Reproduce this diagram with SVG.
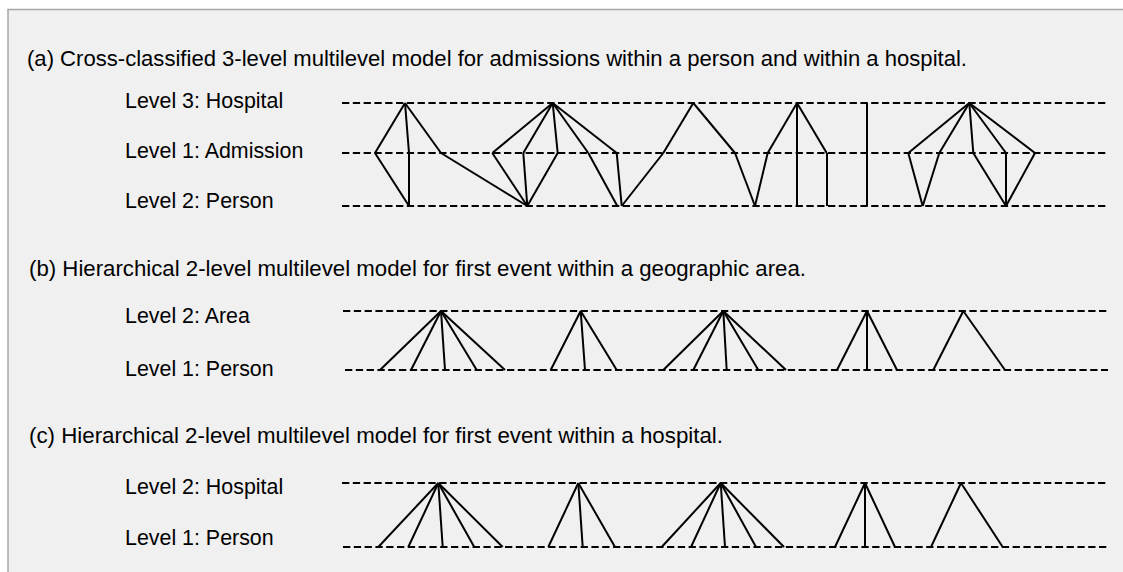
<svg xmlns="http://www.w3.org/2000/svg" width="1123" height="572" viewBox="0 0 1123 572">
  <style>
    .frame { fill: #f0f0f0; stroke: #a6a6a6; stroke-width: 1.5; }
    .title { font-family: "Liberation Sans", Arial, sans-serif; font-size: 22.2px; fill: #000; }
    .label { font-family: "Liberation Sans", Arial, sans-serif; font-size: 21.4px; fill: #000; }
    .level { stroke: #000; stroke-width: 2; stroke-dasharray: 7.3 3.5; fill: none; }
    .link { stroke: #000; stroke-width: 2; fill: none; stroke-linejoin: miter; }
  </style>

  <rect x="0" y="0" width="1123" height="572" fill="#ffffff"/>
  <rect class="frame" x="8" y="9.5" width="1130" height="580"/>

  <!-- (a) cross-classified model: hospital / admission / person -->
  <g id="panel-a">
    <text class="title" x="27" y="66" textLength="940" lengthAdjust="spacingAndGlyphs">(a) Cross-classified 3-level multilevel model for admissions within a person and within a hospital.</text>
    <g id="labels-a">
      <text class="label" x="125" y="108">Level 3: Hospital</text>
      <text class="label" x="125" y="158">Level 1: Admission</text>
      <text class="label" x="125" y="208">Level 2: Person</text>
    </g>
    <g id="levels-a">
      <line class="level" x1="342" y1="103" x2="1107" y2="103"/>
      <line class="level" x1="342" y1="153" x2="1107" y2="153"/>
      <line class="level" x1="342" y1="206" x2="1107" y2="206"/>
    </g>
    <g id="connectors-a">
      <line class="link" x1="405" y1="103" x2="375" y2="153"/>
      <line class="link" x1="405" y1="103" x2="441" y2="153"/>
      <polyline class="link" points="405,103 409,153 409,206"/>
      <line class="link" x1="375" y1="153" x2="409" y2="206"/>
      <line class="link" x1="441" y1="153" x2="527.3" y2="206"/>

      <line class="link" x1="552.7" y1="103" x2="492.3" y2="153"/>
      <line class="link" x1="552.7" y1="103" x2="523.3" y2="153"/>
      <line class="link" x1="552.7" y1="103" x2="557.7" y2="153"/>
      <line class="link" x1="552.7" y1="103" x2="588.3" y2="153"/>
      <line class="link" x1="552.7" y1="103" x2="616.7" y2="153"/>
      <line class="link" x1="492.3" y1="153" x2="527.3" y2="206"/>
      <line class="link" x1="523.3" y1="153" x2="527.3" y2="206"/>
      <line class="link" x1="557.7" y1="153" x2="527.3" y2="206"/>
      <line class="link" x1="588.3" y1="153" x2="617.3" y2="206"/>
      <line class="link" x1="616.7" y1="153" x2="621.7" y2="206"/>
      <line class="link" x1="621.7" y1="206" x2="663.3" y2="153"/>

      <line class="link" x1="693.3" y1="103" x2="663.3" y2="153"/>
      <line class="link" x1="693.3" y1="103" x2="735" y2="153"/>
      <line class="link" x1="735" y1="153" x2="755" y2="206"/>
      <line class="link" x1="755" y1="206" x2="767.7" y2="153"/>
      <line class="link" x1="767.7" y1="153" x2="797" y2="103"/>
      <line class="link" x1="797" y1="103" x2="797" y2="206"/>
      <line class="link" x1="797" y1="103" x2="826.7" y2="153"/>
      <line class="link" x1="827" y1="153" x2="827" y2="206"/>

      <line class="link" x1="867" y1="103" x2="867" y2="206"/>

      <line class="link" x1="969.3" y1="103" x2="908.3" y2="153"/>
      <line class="link" x1="969.3" y1="103" x2="939.3" y2="153"/>
      <line class="link" x1="969.3" y1="103" x2="973.3" y2="153"/>
      <line class="link" x1="969.3" y1="103" x2="1006" y2="153"/>
      <line class="link" x1="969.3" y1="103" x2="1035" y2="153"/>
      <line class="link" x1="908.3" y1="153" x2="922.7" y2="206"/>
      <line class="link" x1="939.3" y1="153" x2="922.7" y2="206"/>
      <line class="link" x1="973.3" y1="153" x2="1006" y2="206"/>
      <line class="link" x1="1006" y1="153" x2="1006" y2="206"/>
      <line class="link" x1="1035" y1="153" x2="1006" y2="206"/>
    </g>
  </g>

  <!-- (b) hierarchical model: area / person -->
  <g id="panel-b">
    <text class="title" x="29" y="276" textLength="777" lengthAdjust="spacingAndGlyphs">(b) Hierarchical 2-level multilevel model for first event within a geographic area.</text>
    <g id="labels-b">
      <text class="label" x="125" y="323">Level 2: Area</text>
      <text class="label" x="125" y="376">Level 1: Person</text>
    </g>
    <g id="levels-b">
      <line class="level" x1="343" y1="311" x2="1108" y2="311"/>
      <line class="level" x1="345" y1="370" x2="1108" y2="370"/>
    </g>
    <g id="connectors-b">
      <line class="link" x1="441" y1="311" x2="380" y2="370"/>
      <line class="link" x1="441" y1="311" x2="411" y2="370"/>
      <line class="link" x1="441" y1="311" x2="445" y2="370"/>
      <line class="link" x1="441" y1="311" x2="476.7" y2="370"/>
      <line class="link" x1="441" y1="311" x2="505" y2="370"/>

      <line class="link" x1="580.7" y1="311" x2="550.7" y2="370"/>
      <line class="link" x1="580.7" y1="311" x2="585" y2="370"/>
      <line class="link" x1="580.7" y1="311" x2="616.7" y2="370"/>

      <line class="link" x1="723.3" y1="311" x2="663.3" y2="370"/>
      <line class="link" x1="723.3" y1="311" x2="693.3" y2="370"/>
      <line class="link" x1="723.3" y1="311" x2="726.7" y2="370"/>
      <line class="link" x1="723.3" y1="311" x2="758.3" y2="370"/>
      <line class="link" x1="723.3" y1="311" x2="786" y2="370"/>

      <line class="link" x1="867" y1="311" x2="837" y2="370"/>
      <line class="link" x1="867" y1="311" x2="867" y2="370"/>
      <line class="link" x1="867" y1="311" x2="897" y2="370"/>

      <line class="link" x1="963.3" y1="311" x2="933.3" y2="370"/>
      <line class="link" x1="963.3" y1="311" x2="1005" y2="370"/>
    </g>
  </g>

  <!-- (c) hierarchical model: hospital / person -->
  <g id="panel-c">
    <text class="title" x="29" y="443" textLength="694" lengthAdjust="spacingAndGlyphs">(c) Hierarchical 2-level multilevel model for first event within a hospital.</text>
    <g id="labels-c">
      <text class="label" x="125" y="494">Level 2: Hospital</text>
      <text class="label" x="125" y="545">Level 1: Person</text>
    </g>
    <g id="levels-c">
      <line class="level" x1="342" y1="483" x2="1106" y2="483"/>
      <line class="level" x1="343" y1="547" x2="1108" y2="547"/>
    </g>
    <g id="connectors-c">
      <line class="link" x1="438.3" y1="483" x2="378.3" y2="547"/>
      <line class="link" x1="438.3" y1="483" x2="408.3" y2="547"/>
      <line class="link" x1="438.3" y1="483" x2="442.7" y2="547"/>
      <line class="link" x1="438.3" y1="483" x2="474.3" y2="547"/>
      <line class="link" x1="438.3" y1="483" x2="502.7" y2="547"/>

      <line class="link" x1="578.3" y1="483" x2="548.3" y2="547"/>
      <line class="link" x1="578.3" y1="483" x2="582.7" y2="547"/>
      <line class="link" x1="578.3" y1="483" x2="615" y2="547"/>

      <line class="link" x1="720.7" y1="483" x2="661.7" y2="547"/>
      <line class="link" x1="720.7" y1="483" x2="691" y2="547"/>
      <line class="link" x1="720.7" y1="483" x2="725" y2="547"/>
      <line class="link" x1="720.7" y1="483" x2="756" y2="547"/>
      <line class="link" x1="720.7" y1="483" x2="784" y2="547"/>

      <line class="link" x1="865" y1="483" x2="835" y2="547"/>
      <line class="link" x1="865" y1="483" x2="865" y2="547"/>
      <line class="link" x1="865" y1="483" x2="895" y2="547"/>

      <line class="link" x1="961" y1="483" x2="931" y2="547"/>
      <line class="link" x1="961" y1="483" x2="1002.7" y2="547"/>
    </g>
  </g>
</svg>
